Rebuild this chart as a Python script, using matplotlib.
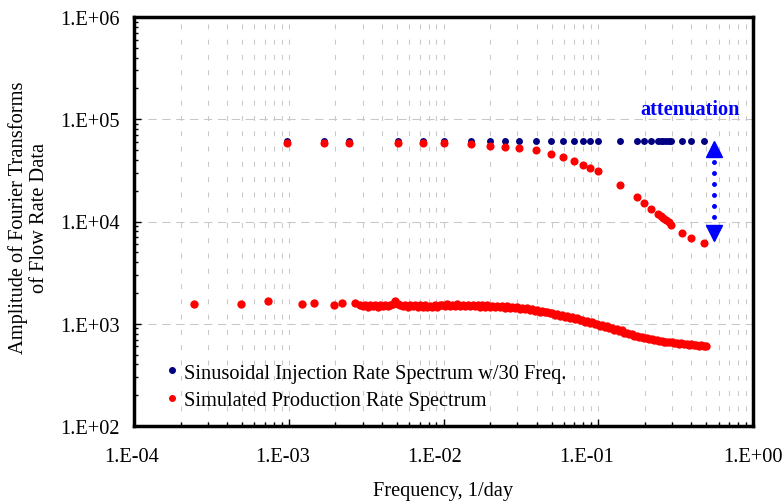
import math

import matplotlib
matplotlib.use('Agg')
import matplotlib.pyplot as plt
from matplotlib.ticker import LogLocator, FuncFormatter, NullFormatter
from matplotlib.lines import Line2D
from matplotlib.transforms import ScaledTranslation

# injection spectrum: 30 frequencies (1/day) and amplitudes
inj_freq = [9.75e-4, 1.70e-3, 2.44e-3, 5.11e-3, 7.33e-3, 1.00e-2, 1.51e-2, 2.00e-2,
            2.50e-2, 3.09e-2, 3.96e-2, 4.97e-2, 5.95e-2, 6.97e-2, 7.92e-2, 8.88e-2,
            9.96e-2, 0.139, 0.178, 0.198, 0.220, 0.244, 0.254, 0.264, 0.275, 0.286,
            0.297, 0.347, 0.396, 0.481]
inj_amp = [61000] * 30

# production spectrum at the injection frequencies
prod_peak_amp = [58800, 58700, 58800, 58600, 58500, 58600, 56900, 55100, 53800, 52300,
                 49600, 46000, 42400, 39300, 35900, 33100, 30900, 22500, 17200, 15200,
                 13400, 11800, 11300, 10800, 10300, 9800, 9240, 7770, 6900, 6110]

# production spectrum, sparse low-frequency points
prod_low_freq = [2.44e-4, 4.88e-4, 7.32e-4, 1.22e-3, 1.46e-3, 1.95e-3, 2.20e-3, 2.69e-3]
prod_low_amp = [1545, 1545, 1655, 1545, 1595, 1525, 1595, 1595]

# production spectrum, dense part (read along the band)
prod_freq = [2.90e-3, 3.00e-3, 3.12e-3, 3.24e-3, 3.36e-3, 3.49e-3, 3.62e-3, 3.76e-3,
             3.90e-3, 4.05e-3, 4.20e-3, 4.36e-3, 4.52e-3, 4.69e-3, 4.87e-3, 5.05e-3,
             5.24e-3, 5.44e-3, 5.65e-3, 5.86e-3, 6.08e-3, 6.31e-3, 6.55e-3, 6.80e-3,
             7.05e-3, 7.32e-3, 7.60e-3, 7.88e-3, 8.18e-3, 8.49e-3, 8.81e-3, 9.14e-3,
             9.49e-3, 9.85e-3,
             0.0102, 0.0106, 0.0110, 0.0114, 0.0119, 0.0123, 0.0128, 0.0133,
             0.0138, 0.0143, 0.0148, 0.0154, 0.0160, 0.0166, 0.0172, 0.0178,
             0.0185, 0.0192, 0.0199, 0.0207, 0.0215, 0.0223, 0.0231, 0.0240,
             0.0249, 0.0258, 0.0268, 0.0278, 0.0289, 0.0300, 0.0311, 0.0323,
             0.0335, 0.0348, 0.0361, 0.0375, 0.0389, 0.0403, 0.0419, 0.0434,
             0.0451, 0.0468, 0.0485, 0.0504, 0.0523, 0.0542, 0.0563, 0.0584,
             0.0606, 0.0629, 0.0653, 0.0678, 0.0703, 0.0730, 0.0758, 0.0786,
             0.0816, 0.0847, 0.0879, 0.0912, 0.0947, 0.0982,
             0.102, 0.106, 0.110, 0.114, 0.118, 0.122, 0.127, 0.132,
             0.137, 0.142, 0.147, 0.153, 0.159, 0.165, 0.171, 0.177,
             0.184, 0.191, 0.198, 0.206, 0.213, 0.221, 0.230, 0.238,
             0.247, 0.257, 0.266, 0.276, 0.287, 0.298, 0.309, 0.321,
             0.333, 0.345, 0.358, 0.372, 0.386, 0.400, 0.415, 0.431,
             0.447, 0.464, 0.482, 0.500]
prod_amp = [1530, 1480, 1520, 1470, 1510, 1480, 1520, 1470,
            1510, 1490, 1520, 1480, 1530, 1560, 1680, 1560,
            1520, 1480, 1530, 1470, 1520, 1480, 1510, 1460,
            1520, 1470, 1510, 1460, 1500, 1470, 1520, 1470,
            1510, 1540,
            1490, 1550, 1480, 1530, 1490, 1550, 1500, 1540,
            1480, 1530, 1490, 1540, 1480, 1520, 1470, 1510,
            1470, 1510, 1460, 1500, 1460, 1490, 1450, 1490,
            1440, 1480, 1430, 1470, 1420, 1450, 1400, 1430,
            1380, 1410, 1360, 1390, 1340, 1360, 1310, 1340,
            1290, 1310, 1260, 1280, 1230, 1250, 1200, 1220,
            1170, 1190, 1150, 1160, 1110, 1130, 1080, 1100,
            1050, 1060, 1020, 1030, 990, 1000,
            960, 970, 930, 940, 900, 905, 870, 880,
            850, 860, 815, 810, 785, 790, 760, 765,
            740, 745, 722, 724, 705, 708, 692, 694,
            680, 682, 668, 670, 658, 660, 648, 650,
            640, 642, 632, 634, 625, 627, 618, 620,
            612, 613, 606, 605]

legend_labels = ['Sinusoidal Injection Rate Spectrum w/30 Freq.',
                 'Simulated Production Rate Spectrum']

plt.rcParams['font.family'] = ['Liberation Serif', 'DejaVu Serif']
plt.rcParams['font.size'] = 14.7
plt.rcParams['lines.scale_dashes'] = False

navy = '#000080'
red = '#FF0000'
blue = '#0000FF'

fig = plt.figure(figsize=(7.83, 5.02), dpi=100)
ax = fig.add_axes([134 / 783, 75 / 502, 619 / 783, 409 / 502])
ax.set_xscale('log')
ax.set_yscale('log')
ax.set_xlim(1e-4, 1)
ax.set_ylim(1e2, 1e6)

ax.scatter(inj_freq, inj_amp, s=25, color=navy, linewidths=0, zorder=3)
ax.scatter(inj_freq, prod_peak_amp, s=34, color=red, linewidths=0, zorder=4)
ax.scatter(prod_low_freq, prod_low_amp, s=36, color=red, linewidths=0, zorder=4)
ax.scatter(prod_freq, prod_amp, s=36, color=red, linewidths=0, zorder=4)

# attenuation arrow
arrow_x = 0.56
ax.plot([arrow_x, arrow_x], [3.84e4, 1.04e4], color=blue, lw=3.6,
        linestyle=(0, (0.01, 7.9)), dash_capstyle='round', zorder=5)
ax.plot(arrow_x, 5.09e4, marker='^', ms=12, color=blue, zorder=5)
ax.plot(arrow_x, 7.69e3, marker='v', ms=12, color=blue, zorder=5)
ax.text(0.392, 1.27e5, 'attenuation', color=blue, fontweight='bold',
        ha='center', va='center')

# axes styling
fmt = FuncFormatter(lambda v, p: '1.E{:+03d}'.format(int(round(math.log10(v)))))
for axis in (ax.xaxis, ax.yaxis):
    axis.set_major_locator(LogLocator(base=10, numticks=10))
    axis.set_minor_locator(LogLocator(base=10, subs=range(2, 10), numticks=50))
    axis.set_major_formatter(fmt)
    axis.set_minor_formatter(NullFormatter())

ax.xaxis.grid(True, which='both', color='#C8C8C8', lw=0.75, linestyle=(0, (3.5, 7.5)))
ax.yaxis.grid(True, which='major', color='#C8C8C8', lw=0.75, linestyle=(0, (6, 4)))
ax.set_axisbelow(True)

ax.tick_params(which='both', direction='in', top=False, right=False, width=1)
ax.tick_params(which='major', length=5)
ax.tick_params(which='minor', length=3)
ax.tick_params(axis='x', pad=15)
ax.tick_params(axis='y', pad=10)
for sp in ax.spines.values():
    sp.set_linewidth(2.5)

# x labels sit a little off their ticks in the original
fig.canvas.draw()
x_shift_px = [16, -2, -6, -9, -12]
for lab, dx in zip(ax.get_xticklabels(), x_shift_px):
    lab.set_transform(lab.get_transform() + ScaledTranslation(dx / 100, 0, fig.dpi_scale_trans))

handles = [Line2D([0], [0], marker='o', ls='', color=navy, markersize=4),
           Line2D([0], [0], marker='o', ls='', color=red, markersize=4)]
ax.legend(handles, legend_labels, loc='lower left', bbox_to_anchor=(0.040, 0.018),
          frameon=False, handlelength=0.5, handletextpad=0.35, labelspacing=0.42,
          borderaxespad=0)

fig.text(28.5 / 783, 1 - 218 / 502, 'Amplitude of Fourier Transforms\nof Flow Rate Data',
         rotation=90, ha='center', va='center', multialignment='center', linespacing=1.1)
fig.text(443 / 783, 1 - 492 / 502, 'Frequency, 1/day', ha='center', va='center')

fig.savefig('out.png', dpi=100)
